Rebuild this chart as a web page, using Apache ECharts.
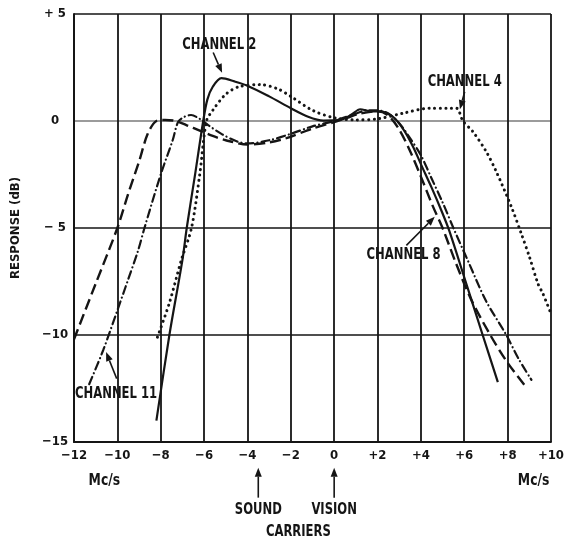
<!DOCTYPE html>
<html>
<head>
<meta charset="utf-8">
<title>Response curves</title>
<script src="https://cdn.jsdelivr.net/npm/echarts@6/dist/echarts.min.js"></script>
<style>
	html, body { margin: 0; padding: 0; background: #fff; }
	#chart { width: 567px; height: 540px; }
</style>
</head>
<body>
<div id="chart"></div>
<script>
/********************************************************/
/* 数据部分：频率 (Mc/s) 与响应 (dB) */
/********************************************************/
// Channel 2 (实线)
const ch2X = [-8.2, -7.6, -7.0, -6.8, -6.4, -6.04, -5.85, -5.6, -5.2, -4.6, -4.0, -3.0, -2.0, -1.2, -0.5, 0.3, 0.8, 1.2, 1.7, 2.1, 2.7, 3.2, 3.64, 4.02, 4.48, 4.94, 5.3, 6.0, 6.85, 7.55];
const ch2Y = [-14, -10, -6.5, -5, -2.4, 0, 1.0, 1.6, 2.0, 1.85, 1.65, 1.15, 0.6, 0.2, 0.02, 0.05, 0.3, 0.55, 0.45, 0.45, 0.2, -0.4, -1.2, -2.06, -3.08, -4.17, -5.1, -7.3, -10, -12.2];
// Channel 4 (点线)
const ch4X = [-8.15, -7.6, -7.05, -6.58, -6.2, -5.89, -5.6, -5.0, -4.4, -3.4, -2.6, -2.0, -1.0, 0, 1.0, 2.0, 3.2, 4.4, 5.2, 5.64, 5.94, 6.4, 7.02, 7.48, 8.17, 8.63, 9.01, 9.4, 9.63, 10.0];
const ch4Y = [-10.1, -8.5, -6.5, -5, -2.5, 0, 0.5, 1.25, 1.6, 1.7, 1.5, 1.15, 0.5, 0.15, 0.05, 0.1, 0.37, 0.6, 0.6, 0.6, 0.0, -0.5, -1.44, -2.37, -4.0, -5.26, -6.36, -7.6, -8.07, -9.0];
// Channel 8 (虚线)
const ch8X = [-12, -11, -10, -9.5, -9.0, -8.6, -8.2, -7.8, -7.3, -6.8, -6.2, -5.6, -5.0, -4.0, -3.0, -2.2, -1.0, 0, 0.6, 1.2, 2.0, 2.5, 3.0, 3.5, 4.0, 4.56, 5.0, 5.6, 6.3, 7.2, 8.0, 8.9];
const ch8Y = [-10.2, -7.6, -5.0, -3.4, -1.9, -0.6, 0, 0.05, 0.0, -0.2, -0.45, -0.7, -0.9, -1.1, -1.0, -0.8, -0.35, -0.05, 0.15, 0.35, 0.45, 0.25, -0.4, -1.4, -2.6, -4.0, -5.0, -6.6, -8.3, -10.0, -11.3, -12.5];
// Channel 11 (点划线)
const ch11X = [-11.3, -10.65, -10.0, -9.5, -9.04, -8.75, -8.0, -7.45, -7.2, -6.9, -6.6, -6.2, -5.8, -5.2, -4.5, -4.0, -3.0, -2.0, -1.0, 0, 1.0, 1.5, 2.0, 2.5, 3.0, 3.5, 4.0, 4.5, 5.0, 5.5, 6.2, 7.0, 7.94, 8.5, 9.1];
const ch11Y = [-12.3, -10.7, -8.85, -7.4, -6.04, -5.0, -2.5, -0.9, -0.05, 0.2, 0.28, 0.1, -0.2, -0.6, -0.95, -1.05, -0.9, -0.6, -0.25, 0.0, 0.35, 0.5, 0.5, 0.35, -0.1, -0.8, -1.6, -2.7, -3.8, -5.0, -6.6, -8.4, -10.0, -11.1, -12.1];

// 刻度标签
const xTickLabels = ['\u221212', '\u221210', '\u22128', '\u22126', '\u22124', '\u22122', '0', '+2', '+4', '+6', '+8', '+10'];
const yTickLabels = ['\u221215', '\u221210', '\u2212 5', '0', '+ 5'];

/********************************************************/
/* 样式 */
/********************************************************/
const INK = '#151515';
const COND = "'DejaVu Sans Condensed', 'Liberation Sans Narrow', sans-serif";

function zip(xs, ys) {
	return xs.map((x, i) => [x, ys[i]]);
}

function curve(name, xs, ys, lineStyle) {
	return {
		name: name,
		type: 'line',
		data: zip(xs, ys),
		smooth: 0.3,
		symbol: 'none',
		lineStyle: Object.assign({ color: INK, width: 2.2 }, lineStyle),
		z: 5
	};
}

let chart = echarts.init(document.getElementById('chart'));

chart.setOption({
	animation: false,
	backgroundColor: '#fff',
	grid: { left: 74, right: 16, top: 14, bottom: 98 },
	xAxis: {
		type: 'value',
		min: -12, max: 10, interval: 2,
		axisLine: { show: true, onZero: false, lineStyle: { color: INK, width: 2 } },
		axisTick: { show: false },
		splitLine: { show: true, lineStyle: { color: INK, width: 1.8 } },
		axisLabel: {
			color: INK, fontFamily: COND, fontWeight: 'bold', fontSize: 13, margin: 7,
			formatter: v => xTickLabels[Math.round((v + 12) / 2)]
		}
	},
	yAxis: {
		type: 'value',
		min: -15, max: 5, interval: 5,
		name: 'RESPONSE (dB)',
		nameLocation: 'middle',
		nameRotate: 90,
		nameGap: 52,
		nameTextStyle: { color: INK, fontFamily: COND, fontWeight: 'bold', fontSize: 13 },
		axisLine: { show: true, onZero: false, lineStyle: { color: INK, width: 2 } },
		axisTick: { show: false },
		splitLine: { show: true, lineStyle: { color: [INK, INK, INK, '#7a7a7a', INK], width: 1.5 } },
		axisLabel: {
			color: INK, fontFamily: COND, fontWeight: 'bold', fontSize: 13, margin: 19, align: 'center',
			formatter: v => yTickLabels[Math.round((v + 15) / 5)]
		}
	},
	series: [
		curve('Channel 2', ch2X, ch2Y, { type: 'solid', width: 2.2 }),
		curve('Channel 4', ch4X, ch4Y, { type: [0.1, 5.5], cap: 'round', width: 3 }),
		curve('Channel 8', ch8X, ch8Y, { type: [11, 5], width: 2.4 }),
		curve('Channel 11', ch11X, ch11Y, { type: [8, 4, 0.1, 4], cap: 'round', width: 2.2 })
	]
});

/********************************************************/
/* 注释：文字与箭头 (数据坐标) */
/********************************************************/
function px(p) {
	return chart.convertToPixel({ gridIndex: 0 }, p);
}

function label(text, p, size) {
	const q = px(p);
	return {
		type: 'text', x: q[0], y: q[1], z: 20, scaleX: 0.86,
		style: {
			text: text, fill: INK, font: 'bold ' + (size || 15) + 'px ' + COND,
			align: 'center', verticalAlign: 'middle'
		}
	};
}

function arrow(from, to) {
	const a = px(from), b = px(to);
	const ang = Math.atan2(b[1] - a[1], b[0] - a[0]);
	const L = 9, W = 3.5;
	const bx = b[0] - L * Math.cos(ang), by = b[1] - L * Math.sin(ang);
	const nx = Math.sin(ang) * W, ny = -Math.cos(ang) * W;
	return [
		{ type: 'line', z: 20, shape: { x1: a[0], y1: a[1], x2: bx, y2: by }, style: { stroke: INK, lineWidth: 1.6 } },
		{ type: 'polygon', z: 20, shape: { points: [b, [bx + nx, by + ny], [bx - nx, by - ny]] }, style: { fill: INK } }
	];
}

const notes = [].concat(
	[label('CHANNEL 2', [-5.3, 3.56])], arrow([-5.58, 3.2], [-5.17, 2.25]),
	[label('CHANNEL 4', [6.02, 1.83])], arrow([6.02, 1.36], [5.8, 0.55]),
	[label('CHANNEL 8', [3.2, -6.28])], arrow([3.33, -5.81], [4.64, -4.48]),
	[label('CHANNEL 11', [-10.06, -12.74])], arrow([-10.03, -12.04], [-10.52, -10.8]),
	[label('Mc/s', [-10.6, -16.8], 16)], [label('Mc/s', [9.2, -16.8], 16)],
	arrow([-3.5, -17.6], [-3.5, -16.2]), arrow([0, -17.6], [0, -16.2]),
	[label('SOUND', [-3.5, -18.2])], [label('VISION', [0, -18.2])],
	[label('CARRIERS', [-1.65, -19.2])]
);

chart.setOption({ graphic: notes });
</script>
</body>
</html>
